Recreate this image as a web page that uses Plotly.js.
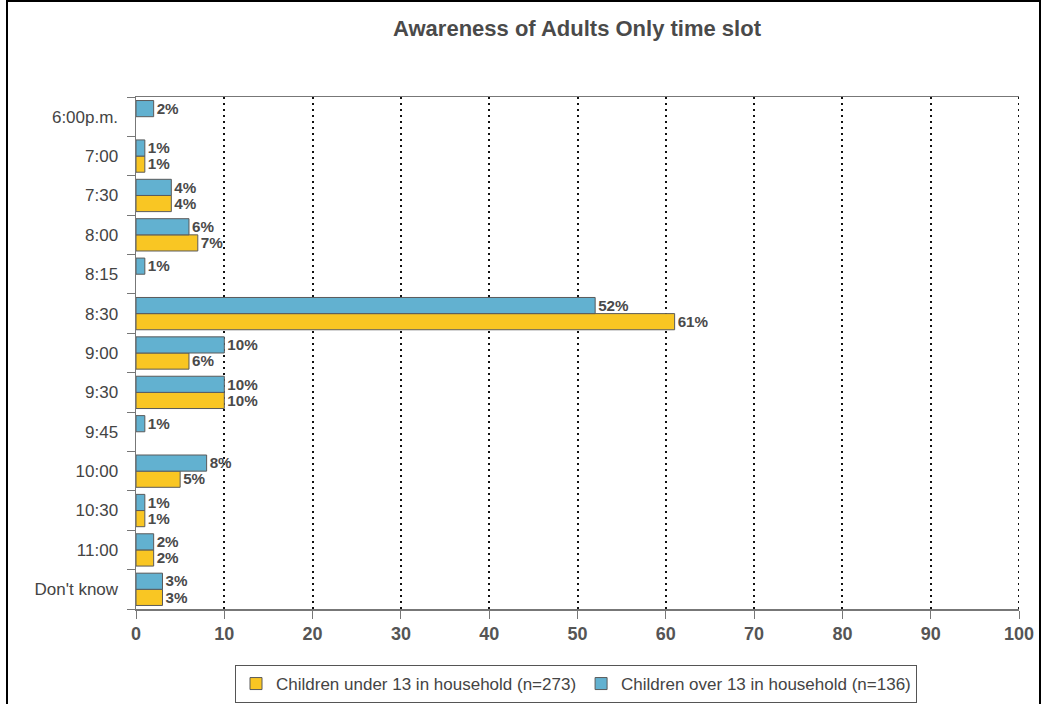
<!DOCTYPE html>
<html><head><meta charset="utf-8">
<script src="https://cdn.plot.ly/plotly-3.0.1.min.js"></script>
<style>body{margin:0;background:#fff}#chart{width:1042px;height:704px}</style>
</head><body><div id="chart"></div>
<script>
const categories = ["6:00p.m.","7:00","7:30","8:00","8:15","8:30","9:00","9:30","9:45","10:00","10:30","11:00","Don't know"];
const under13 = [null,1,4,7,null,61,6,10,null,5,1,2,3];
const over13 = [2,1,4,6,1,52,10,10,1,8,1,2,3];
const seriesNames = ["Children under 13 in household (n=273)","Children over 13 in household (n=136)"];
const xTicks = [0,10,20,30,40,50,60,70,80,90,100];

const FONT = "Liberation Sans, Arial, sans-serif";
const labelFont = {family:FONT, size:16, color:"#4a4a4a", weight:"bold"};
function mk(vals, name, color){
  return {type:"bar", orientation:"h", y:categories, x:vals, name:name,
    marker:{color:color, line:{color:"#5a5a5a", width:1}},
    text:vals.map(v=>v==null?"":v+"%"), textposition:"outside", cliponaxis:false,
    textfont:labelFont, hoverinfo:"x+y"};
}
const data = [mk(under13, seriesNames[0], "#f9c623"), mk(over13, seriesNames[1], "#62b1d0")];
const pw = 883, ph = 512;
const layout = {
  width:1042, height:704,
  margin:{l:136, r:23, t:97, b:95, autoexpand:false},
  paper_bgcolor:"#fff", plot_bgcolor:"#fff",
  font:{family:FONT, color:"#444"},
  title:{text:"<b>Awareness of Adults Only time slot</b>", x:(577-136)/pw, xref:"paper", xanchor:"center", y:1-28/704, yanchor:"middle",
    font:{size:22, color:"#4a4a4a"}},
  barmode:"group", bargap:0.18, bargroupgap:0,
  xaxis:{range:[0,100], tickvals:xTicks, ticktext:xTicks.map(String), showgrid:true, gridcolor:"#111", griddash:"2px,4px", gridwidth:2,
    showline:true, linecolor:"#777", linewidth:1.5, mirror:true, ticks:"outside", ticklen:8, tickcolor:"#777",
    tickfont:{size:18, color:"#555", weight:"bold"}, zeroline:false, fixedrange:true, automargin:false},
  yaxis:{type:"category", categoryorder:"array", categoryarray:categories.slice().reverse(),
    showline:true, linecolor:"#777", linewidth:1.5, ticks:"outside", tickson:"boundaries", ticklen:8, tickcolor:"#777",
    tickfont:{size:17, color:"#444"}, showgrid:false, fixedrange:true, ticklabelstandoff:13, automargin:false},
  showlegend:true,
  legend:{orientation:"h", xref:"container", yref:"container", x:576/1042, xanchor:"center", y:1-665/704, yanchor:"top",
    bordercolor:"#555", borderwidth:1, font:{size:17, color:"#444"}, itemwidth:30, traceorder:"normal"},
  shapes:[
    {type:"rect", xref:"paper", yref:"paper", x0:(7-136)/pw, x1:(1040-136)/pw, y0:(609-720)/ph, y1:(609-1)/ph,
     line:{color:"#000", width:2}, fillcolor:"rgba(0,0,0,0)", layer:"above"},
    {type:"line", xref:"x", yref:"paper", x0:100, x1:100, y0:0, y1:1, line:{color:"#111", width:2, dash:"2px,4px"}}
  ]
};
Plotly.newPlot("chart", data, layout, {displayModeBar:false, staticPlot:true});
</script></body></html>
